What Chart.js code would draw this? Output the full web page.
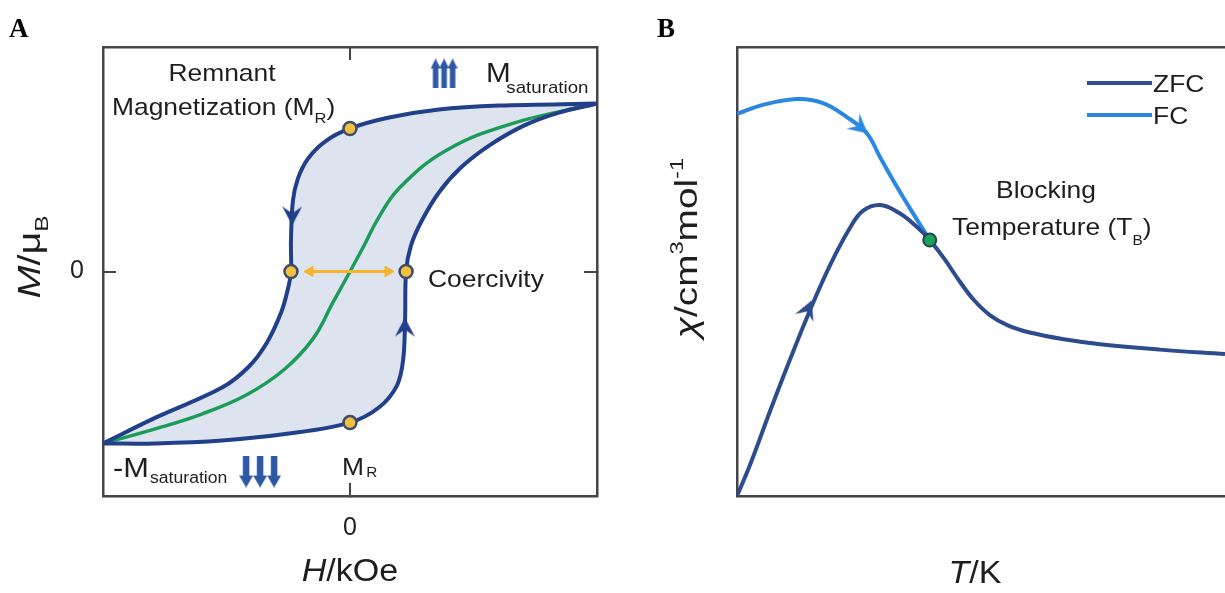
<!DOCTYPE html>
<html><head><meta charset="utf-8">
<script src="https://cdn.jsdelivr.net/npm/chart.js@4.4.1/dist/chart.umd.min.js"></script>
<style>
html,body{margin:0;padding:0;background:#fff;width:1225px;height:593px;overflow:hidden}
#ca{position:absolute;left:0;top:0}
#cb{position:absolute;left:650px;top:0}
</style></head><body>
<canvas id="ca" width="650" height="593"></canvas>
<canvas id="cb" width="575" height="593"></canvas>
<script>
// ---------- Panel A data (H in arbitrary units, M in arbitrary units) ----------
const upperBranch = [[-1,-0.766],[-0.785,-0.650],[-0.518,-0.517],[-0.409,-0.423],[-0.336,-0.316],[-0.279,-0.183],[-0.251,-0.076],[-0.239,0],[-0.239,0.138],[-0.231,0.316],[-0.211,0.414],[-0.170,0.503],[-0.101,0.579],[0,0.637],[0.158,0.686],[0.360,0.722],[0.603,0.739],[1,0.748]];
const lowerBranch = [[-1,-0.766],[-0.785,-0.766],[-0.518,-0.753],[-0.247,-0.722],[0,-0.673],[0.117,-0.606],[0.190,-0.508],[0.215,-0.396],[0.223,-0.218],[0.227,0],[0.247,0.116],[0.291,0.227],[0.360,0.352],[0.449,0.463],[0.563,0.561],[0.704,0.650],[0.846,0.708],[1,0.748]];
const anhysteretic = [[-1,-0.766],[-0.785,-0.700],[-0.600,-0.635],[-0.420,-0.550],[-0.270,-0.440],[-0.150,-0.300],[-0.070,-0.140],[0,0],[0.057,0.116],[0.109,0.227],[0.198,0.370],[0.389,0.539],[0.656,0.659],[1,0.748]];
const remanence = [[0,0.637],[0,-0.673]];
const coercivity = [[-0.239,0],[0.227,0]];
const coercArrow = [[-0.162,0],[0.154,0]];
const loopArrows = [[-0.234,0.25],[0.222,-0.25]];
const loopArrowRot = [180,0];
const satArrows = [[0.381,0.882],[-0.364,-0.891]];
const xTickValuesA = [0], xTickLabelsA = ['0'];
const yTickValuesA = [0], yTickLabelsA = ['0'];

// ---------- Panel B data (T and chi in arbitrary units) ----------
const zfc = [[0,0],[0.027,0.070],[0.068,0.190],[0.109,0.305],[0.150,0.415],[0.191,0.515],[0.232,0.598],[0.258,0.635],[0.293,0.648],[0.330,0.632],[0.365,0.603],[0.395,0.570],[0.425,0.528],[0.455,0.480],[0.485,0.437],[0.518,0.403],[0.555,0.380],[0.600,0.364],[0.670,0.349],[0.744,0.338],[0.867,0.326],[1,0.316]];
const fc = [[0,0.851],[0.053,0.871],[0.123,0.884],[0.176,0.875],[0.225,0.844],[0.266,0.808],[0.293,0.755],[0.328,0.688],[0.369,0.615],[0.395,0.570]];
const blocking = [[0.395,0.570]];
const curveArrowsB = [[0.145,0.415],[0.252,0.822]];
const curveArrowRotB = [23,130];
const legendLabels = ['ZFC','FC'];

// ---------- helpers ----------
const FAM = '"Liberation Sans", Arial, Helvetica, sans-serif';
const fnt = (s, st='') => (st ? st + ' ' : '') + s + 'px ' + FAM;
const mk = a => a.map(([x,y]) => ({x, y}));
const NAVY = '#22408a', ZFCC = '#2c4c8e', FCC = '#2a88e2', FRAME = '#454545';

function drawRich(ctx, parts, x, y, o = {}) {
  const align = o.align || 'left', hs = (o.hs === undefined ? 1.1 : o.hs), rot = o.rot || 0;
  ctx.save();
  ctx.translate(x, y);
  if (rot) ctx.rotate(rot);
  ctx.scale(hs, 1);
  ctx.fillStyle = o.color || '#1e1e1e';
  ctx.textBaseline = 'alphabetic';
  ctx.textAlign = 'left';
  let w = 0;
  for (const p of parts) { ctx.font = p.f; w += ctx.measureText(p.t).width + (p.dx || 0); }
  let cx = align === 'center' ? -w / 2 : align === 'right' ? -w : 0;
  for (const p of parts) { ctx.font = p.f; cx += (p.dx || 0); ctx.fillText(p.t, cx, p.dy || 0); cx += ctx.measureText(p.t).width; }
  ctx.restore();
}
function chevron(color, w = 20, h = 20) {
  const c = document.createElement('canvas'); c.width = w; c.height = h;
  const g = c.getContext('2d'); g.fillStyle = color;
  g.beginPath(); g.moveTo(w/2, 0); g.lineTo(w, h*0.95); g.lineTo(w/2, h*0.6); g.lineTo(0, h*0.95); g.closePath(); g.fill();
  return c;
}
function tripleArrow(color, w, h, shaft, headW, headH, down) {
  const c = document.createElement('canvas'); c.width = w; c.height = h;
  const g = c.getContext('2d'); g.fillStyle = color;
  const step = (w - headW) / 2;
  for (let i = 0; i < 3; i++) {
    const cx = headW/2 + i*step;
    g.beginPath();
    if (!down) {
      g.moveTo(cx, 0); g.lineTo(cx + headW/2, headH); g.lineTo(cx + shaft/2, headH);
      g.lineTo(cx + shaft/2, h); g.lineTo(cx - shaft/2, h); g.lineTo(cx - shaft/2, headH); g.lineTo(cx - headW/2, headH);
    } else {
      g.moveTo(cx, h); g.lineTo(cx + headW/2, h - headH); g.lineTo(cx + shaft/2, h - headH);
      g.lineTo(cx + shaft/2, 0); g.lineTo(cx - shaft/2, 0); g.lineTo(cx - shaft/2, h - headH); g.lineTo(cx - headW/2, h - headH);
    }
    g.closePath(); g.fill();
  }
  return c;
}
const chevA = chevron(NAVY), chevZ = chevron(ZFCC), chevF = chevron(FCC);
const arrUp = tripleArrow('#2e58a6', 27, 30, 5.5, 10, 10, false);
const arrDown = tripleArrow('#2e58a6', 42, 32, 6.5, 14, 12, true);

function fixedAxis(pos, min, max, size, tickVals, tickLabels, pad) {
  const ax = {
    type: 'linear', position: pos, min, max,
    border: {display: true, color: FRAME, width: 2.5},
    afterFit: s => { if (pos === 'left' || pos === 'right') s.width = size; else s.height = size; }
  };
  if (tickVals) {
    ax.afterBuildTicks = s => { s.ticks = tickVals.map(v => ({value: v})); };
    ax.grid = {drawOnChartArea: false, drawTicks: true, tickLength: -13, color: FRAME, lineWidth: 2};
    ax.ticks = tickLabels ? {display: true, autoSkip: false, maxRotation: 0, padding: pad, color: '#222',
      font: {family: FAM, size: 25}, callback: v => { const i = tickVals.indexOf(v); return i >= 0 ? tickLabels[i] : ''; }}
      : {display: false};
  } else {
    ax.grid = {display: false};
    ax.ticks = {display: false};
  }
  return ax;
}

// ---------- Panel A ----------
const textA = {
  id: 'textA',
  afterDraw(chart) {
    const ctx = chart.ctx;
    drawRich(ctx, [{t:'A', f:'bold 27px "Liberation Serif", "Times New Roman", serif'}], 9, 37, {hs: 1, color:'#000'});
    drawRich(ctx, [{t:'Remnant', f:fnt(24)}], 222, 81, {align:'center'});
    drawRich(ctx, [{t:'Magnetization (M', f:fnt(24)}, {t:'R', f:fnt(15), dy:8}, {t:')', f:fnt(24)}], 112, 115);
    drawRich(ctx, [{t:'M', f:fnt(27)}, {t:'saturation', f:fnt(17), dy:11, dx:-4}], 486, 82);
    drawRich(ctx, [{t:'-M', f:fnt(28)}, {t:'saturation', f:fnt(16), dy:6, dx:1}], 113, 477);
    drawRich(ctx, [{t:'M', f:fnt(24)}, {t:'R', f:fnt(14), dy:2, dx:2}], 342, 475);
    drawRich(ctx, [{t:'Coercivity', f:fnt(24)}], 428, 287);
    drawRich(ctx, [{t:'H', f:fnt(31,'italic')}, {t:'/kOe', f:fnt(31)}], 350, 581, {align:'center'});
    drawRich(ctx, [{t:'M', f:fnt(31,'italic')}, {t:'/', f:fnt(31)}, {t:'μ', f:fnt(31)}, {t:'B', f:fnt(19), dy:8}], 40, 257, {align:'center', rot:-Math.PI/2, hs:1.28});
  }
};

new Chart(document.getElementById('ca'), {
  type: 'line',
  data: {datasets: [
    {label:'upper', data: mk(upperBranch), borderColor: NAVY, borderWidth: 4, tension: 0.35, pointRadius: 0, fill: '+1', backgroundColor: '#dde4f0', order: 2},
    {label:'lower', data: mk(lowerBranch), borderColor: NAVY, borderWidth: 4, tension: 0.35, pointRadius: 0, fill: false, order: 2},
    {label:'anhysteretic', data: mk(anhysteretic), borderColor: '#1c9c58', borderWidth: 3.5, tension: 0.4, pointRadius: 0, fill: false, order: 5},
    {label:'coercivity arrow', data: mk(coercArrow), borderColor: '#f5b42a', borderWidth: 3, pointStyle: 'triangle', pointRadius: 6,
      pointRotation: [270, 90], pointBackgroundColor: '#f5b42a', pointBorderColor: '#f5b42a', pointBorderWidth: 1, fill: false, order: 4},
    {label:'points', data: mk([...remanence, ...coercivity]), showLine: false, pointRadius: 6.5, pointBackgroundColor: '#f4c13f',
      pointBorderColor: '#3e4c6e', pointBorderWidth: 2.5, order: 0},
    {label:'loop arrows', data: mk(loopArrows), showLine: false, pointStyle: chevA, pointRadius: 8, pointRotation: loopArrowRot, order: 1},
    {label:'saturation arrows', data: mk(satArrows), showLine: false, pointStyle: [arrUp, arrDown], pointRadius: 10, order: 1}
  ]},
  options: {
    responsive: false, animation: false, events: [],
    layout: {padding: 0, autoPadding: false},
    plugins: {legend: {display: false}, tooltip: {enabled: false}, filler: {drawTime: 'beforeDatasetsDraw'}},
    scales: {
      x: fixedAxis('bottom', -1, 1, 97, xTickValuesA, xTickLabelsA, 30),
      y: fixedAxis('left', -1, 1, 103, yTickValuesA, yTickLabelsA, 32),
      xT: fixedAxis('top', -1, 1, 47, xTickValuesA, null, 0),
      yR: fixedAxis('right', -1, 1, 53, yTickValuesA, null, 0)
    }
  },
  plugins: [textA]
});

// ---------- Panel B ----------
const textB = {
  id: 'textB',
  afterDraw(chart) {
    const ctx = chart.ctx;
    drawRich(ctx, [{t:'B', f:'bold 27px "Liberation Serif", "Times New Roman", serif'}], 7, 37, {hs: 1, color:'#000'});
    drawRich(ctx, [{t:'Blocking', f:fnt(24)}], 396, 198, {align:'center'});
    drawRich(ctx, [{t:'Temperature (T', f:fnt(24)}, {t:'B', f:fnt(14), dy:10}, {t:')', f:fnt(24)}], 302, 235);
    drawRich(ctx, [{t:'T', f:fnt(31,'italic')}, {t:'/K', f:fnt(31)}], 325, 583, {align:'center'});
    drawRich(ctx, [{t:'χ', f:fnt(31,'italic')}, {t:'/cm', f:fnt(31)}, {t:'3', f:fnt(19), dy:-14}, {t:'mol', f:fnt(31)}, {t:'-1', f:fnt(19), dy:-14}],
      47, 248, {align:'center', rot:-Math.PI/2, hs:1.25});
    // legend
    const rows = [83, 115];
    legendLabels.forEach((lab, i) => {
      const ds = chart.data.datasets.find(d => d.label === lab);
      ctx.save();
      ctx.strokeStyle = ds.borderColor; ctx.lineWidth = 4; ctx.lineCap = 'butt';
      ctx.beginPath(); ctx.moveTo(437, rows[i]); ctx.lineTo(502, rows[i]); ctx.stroke();
      ctx.restore();
      drawRich(ctx, [{t: lab, f: fnt(24)}], 503, rows[i] + 9);
    });
  }
};

new Chart(document.getElementById('cb'), {
  type: 'line',
  data: {datasets: [
    {label:'ZFC', data: mk(zfc), borderColor: ZFCC, borderWidth: 4, tension: 0.4, pointRadius: 0, fill: false, order: 1},
    {label:'FC', data: mk(fc), borderColor: FCC, borderWidth: 4, tension: 0.4, pointRadius: 0, fill: false, order: 2},
    {label:'TB', data: mk(blocking), showLine: false, pointRadius: 6.5, pointBackgroundColor: '#19a352', pointBorderColor: '#22465e', pointBorderWidth: 2, order: 0},
    {label:'arrows', data: mk(curveArrowsB), showLine: false, pointStyle: [chevZ, chevF], pointRotation: curveArrowRotB, pointRadius: 8, order: 0}
  ]},
  options: {
    responsive: false, animation: false, events: [],
    layout: {padding: 0, autoPadding: false},
    plugins: {legend: {display: false}, tooltip: {enabled: false}},
    scales: {
      x: fixedAxis('bottom', 0, 1, 97, null, null, 0),
      y: fixedAxis('left', 0, 1, 87, null, null, 0),
      xT: fixedAxis('top', 0, 1, 47, null, null, 0)
    }
  },
  plugins: [textB]
});
</script>
</body></html>
